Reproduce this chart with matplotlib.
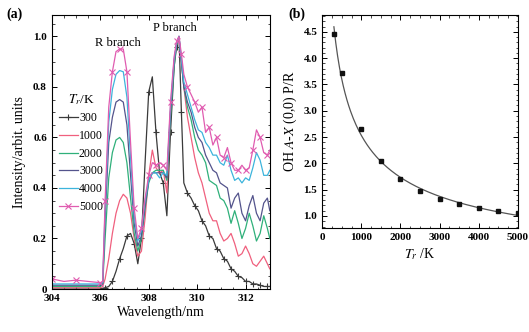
import numpy as np
import matplotlib
matplotlib.use("Agg")
import matplotlib.pyplot as plt
from matplotlib.ticker import MultipleLocator

plt.rcParams['font.family'] = ['Liberation Serif', 'DejaVu Serif']
plt.rcParams['mathtext.fontset'] = 'stix'

# ---- panel (a): OH A-X (0,0) spectra ----
wl = [304.0, 304.5, 305.0, 305.5, 306.0, 306.1, 306.2, 306.35, 306.5, 306.65,
      306.8, 306.95, 307.1, 307.25, 307.4, 307.55, 307.7, 307.85, 308.0, 308.15,
      308.3, 308.45, 308.6, 308.75, 308.9, 309.05, 309.15, 309.25, 309.35, 309.45,
      309.6, 309.75, 309.9, 310.05, 310.2, 310.35, 310.5, 310.65, 310.8, 310.95,
      311.1, 311.25, 311.4, 311.55, 311.7, 311.85, 312.0, 312.15, 312.3, 312.45,
      312.6, 312.75, 312.9, 313.0]

i_300 = [0.0, 0.0, 0.0, 0.0, 0.0, 0.003, 0.005, 0.01, 0.03, 0.07,
         0.12, 0.16, 0.21, 0.22, 0.18, 0.10, 0.2, 0.5, 0.78, 0.84,
         0.62, 0.46, 0.42, 0.29, 0.62, 0.88, 0.96, 1.0, 0.7, 0.42,
         0.38, 0.36, 0.33, 0.31, 0.27, 0.25, 0.21, 0.2, 0.16, 0.15,
         0.12, 0.11, 0.08, 0.07, 0.05, 0.045, 0.03, 0.03, 0.02, 0.02,
         0.015, 0.01, 0.01, 0.01]
i_1000 = [0.005, 0.005, 0.005, 0.005, 0.005, 0.01, 0.04, 0.12, 0.22, 0.3,
          0.35, 0.375, 0.36, 0.3, 0.2, 0.13, 0.15, 0.28, 0.45, 0.55,
          0.48, 0.46, 0.47, 0.38, 0.7, 0.9, 0.97, 0.99, 0.9, 0.8,
          0.68, 0.6, 0.52, 0.46, 0.42, 0.36, 0.3, 0.27, 0.27, 0.22,
          0.19, 0.2, 0.22, 0.18, 0.13, 0.14, 0.17, 0.14, 0.1, 0.09,
          0.11, 0.13, 0.1, 0.08]
i_2000 = [0.01, 0.01, 0.01, 0.01, 0.01, 0.02, 0.2, 0.44, 0.54, 0.59,
          0.6, 0.58, 0.5, 0.36, 0.22, 0.15, 0.2, 0.32, 0.42, 0.46,
          0.47, 0.47, 0.47, 0.43, 0.68, 0.88, 0.97, 1.0, 0.9, 0.8,
          0.72, 0.67, 0.6, 0.55, 0.53, 0.5, 0.43, 0.42, 0.41, 0.36,
          0.35, 0.32, 0.26, 0.31, 0.26, 0.2, 0.24, 0.3, 0.25, 0.19,
          0.22, 0.29, 0.24, 0.2]
i_3000 = [0.015, 0.015, 0.015, 0.015, 0.015, 0.02, 0.28, 0.58, 0.68, 0.74,
          0.75, 0.74, 0.65, 0.45, 0.26, 0.17, 0.21, 0.33, 0.43, 0.46,
          0.46, 0.46, 0.46, 0.44, 0.7, 0.9, 0.97, 1.0, 0.9, 0.8,
          0.74, 0.7, 0.64, 0.6, 0.58, 0.53, 0.5, 0.47, 0.46, 0.42,
          0.41, 0.4, 0.32, 0.36, 0.38, 0.3, 0.27, 0.33, 0.37, 0.3,
          0.27, 0.34, 0.36, 0.31]
i_4000 = [0.02, 0.02, 0.02, 0.02, 0.02, 0.025, 0.32, 0.66, 0.79, 0.85,
          0.865, 0.86, 0.76, 0.52, 0.29, 0.19, 0.23, 0.35, 0.43, 0.46,
          0.46, 0.44, 0.46, 0.45, 0.72, 0.91, 0.97, 1.0, 0.91, 0.82,
          0.77, 0.72, 0.67, 0.63, 0.62, 0.58, 0.56, 0.53, 0.53, 0.5,
          0.49, 0.53, 0.47, 0.43, 0.44, 0.42, 0.44, 0.43, 0.48, 0.54,
          0.51, 0.45, 0.45, 0.47]
i_5000 = [0.04, 0.03, 0.035, 0.03, 0.025, 0.03, 0.35, 0.72, 0.86, 0.94,
          0.95, 0.95, 0.86, 0.58, 0.32, 0.2, 0.24, 0.36, 0.45, 0.5,
          0.49, 0.5, 0.49, 0.47, 0.74, 0.92, 0.98, 1.0, 0.93, 0.85,
          0.8, 0.77, 0.74, 0.7, 0.72, 0.62, 0.64, 0.57, 0.6, 0.53,
          0.52, 0.56, 0.5, 0.47, 0.47, 0.49, 0.47, 0.48, 0.55, 0.63,
          0.6, 0.54, 0.53, 0.55]

temps = ['300', '1000', '2000', '3000', '4000', '5000']
spectra = [i_300, i_1000, i_2000, i_3000, i_4000, i_5000]
colors = ['#3a3a3a', '#f0607e', '#2fb07a', '#54548c', '#3cb4dc', '#e05cb0']
markers = ['+', None, None, None, None, 'x']

# ---- panel (b): P/R ratio ----
tr = [300, 500, 1000, 1500, 2000, 2500, 3000, 3500, 4000, 4500, 5000]
ratio = [4.45, 3.72, 2.65, 2.05, 1.70, 1.47, 1.33, 1.23, 1.15, 1.10, 1.05]

fig = plt.figure(figsize=(5.29, 3.32), dpi=100)
ax1 = fig.add_axes([0.098, 0.1295, 0.412, 0.8255])
ax2 = fig.add_axes([0.609, 0.313, 0.370, 0.642])

for y, c, m, lab in zip(spectra, colors, markers, temps):
    ax1.plot(wl, y, color=c, lw=0.9, marker=m, ms=4, mew=0.8,
             markevery=2, label=lab)

ax1.set_xlim(304, 313)
ax1.set_ylim(0, 1.085)
ax1.xaxis.set_major_locator(MultipleLocator(2))
ax1.xaxis.set_minor_locator(MultipleLocator(0.5))
ax1.yaxis.set_minor_locator(MultipleLocator(0.05))
ax1.set_yticks([0, 0.2, 0.4, 0.6, 0.8, 1.0])
ax1.set_yticklabels(['0', '0.2', '0.4', '0.6', '0.8', '1.0'])
ax1.set_xlabel('Wavelength/nm', fontsize=10, labelpad=2)
ax1.set_ylabel('Intensity/arbit. units', fontsize=10, labelpad=5)
ax1.text(306.73, 0.975, 'R branch', ha='center', va='center', fontsize=9)
ax1.text(309.1, 1.035, 'P branch', ha='center', va='center', fontsize=9)

leg = ax1.legend(loc='upper left', bbox_to_anchor=(0.0, 0.745), frameon=False,
                 fontsize=8.5, handlelength=1.6, handletextpad=0.1,
                 labelspacing=0.48, borderaxespad=0.2,
                 title='$T_r$/K', title_fontsize=9.5)

# fitted curve through the ratio points (quadratic in log-log)
coef = np.polyfit(np.log(tr), np.log(ratio), 2)
tfit = np.linspace(tr[0], tr[-1], 200)
ax2.plot(tfit, np.exp(np.polyval(coef, np.log(tfit))), color='#555555', lw=0.9)
ax2.plot(tr, ratio, 's', color='#111111', ms=3.0)

ax2.set_xlim(0, 5000)
ax2.set_ylim(0.77, 4.82)
ax2.xaxis.set_major_locator(MultipleLocator(1000))
ax2.xaxis.set_minor_locator(MultipleLocator(250))
ax2.yaxis.set_major_locator(MultipleLocator(0.5))
ax2.yaxis.set_minor_locator(MultipleLocator(0.1))
ax2.yaxis.set_major_formatter(matplotlib.ticker.FormatStrFormatter('%.1f'))
ax2.set_xlabel('$T_r$ /K', fontsize=10, labelpad=3)
ax2.set_ylabel('OH $A$-$X$ (0,0) P/R', fontsize=10, labelpad=3)

for ax in (ax1, ax2):
    ax.tick_params(which='both', direction='in', top=True, right=True,
                   labelsize=8)
    ax.tick_params(which='major', length=3.5, width=0.7)
    ax.tick_params(which='minor', length=1.8, width=0.5)
    for lbl in ax.get_xticklabels() + ax.get_yticklabels():
        lbl.set_fontweight('bold')
    for s in ax.spines.values():
        s.set_linewidth(0.8)

fig.text(0.012, 0.958, '(a)', fontsize=10, fontweight='bold', va='center')
fig.text(0.545, 0.958, '(b)', fontsize=10, fontweight='bold', va='center')

fig.savefig('out.png', dpi=100)
